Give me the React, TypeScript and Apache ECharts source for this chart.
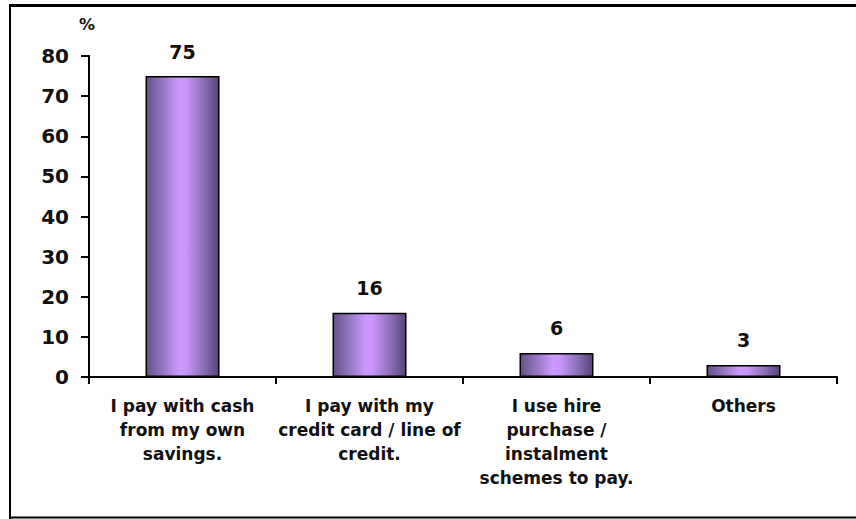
import React, { useEffect, useRef } from "react";
import * as echarts from "echarts";

const categories = [
  "I pay with cash\nfrom my own\nsavings.",
  "I pay with my\ncredit card / line of\ncredit.",
  "I use hire\npurchase /\ninstalment\nschemes to pay.",
  "Others",
];
const values = [75, 16, 6, 3];
const yMin = 0;
const yMax = 80;
const yStep = 10;
const unitLabel = "%";

const FONT = "DejaVu Sans";

export default function App() {
  const ref = useRef<HTMLDivElement>(null);
  useEffect(() => {
    if (!ref.current) return;
    const chart = echarts.init(ref.current, null, { renderer: "svg" });
    chart.setOption({
      animation: false,
      backgroundColor: "#ffffff",
      grid: { left: 89, right: 19, top: 56, bottom: 142, containLabel: false },
      xAxis: {
        type: "category",
        data: categories,
        axisLine: { lineStyle: { color: "#000", width: 2 } },
        axisTick: { show: true, length: 7, lineStyle: { color: "#000", width: 2 }, alignWithLabel: false },
        axisLabel: {
          color: "#111",
          fontFamily: FONT,
          fontWeight: "bold",
          fontSize: 17,
          lineHeight: 24,
          margin: 17,
          interval: 0,
          align: "center",
        },
      },
      yAxis: {
        type: "value",
        min: yMin,
        max: yMax,
        interval: yStep,
        splitLine: { show: false },
        axisLine: { show: true, lineStyle: { color: "#000", width: 2 } },
        axisTick: { show: true, length: 8, lineStyle: { color: "#000", width: 2 } },
        axisLabel: {
          color: "#111",
          fontFamily: FONT,
          fontWeight: "bold",
          fontSize: 20,
          margin: 20,
        },
      },
      series: [
        {
          type: "bar",
          data: values,
          barWidth: 74,
          itemStyle: {
            borderColor: "#000",
            borderWidth: 1.5,
            color: new echarts.graphic.LinearGradient(0, 0, 1, 0, [
              { offset: 0, color: "#66508a" },
              { offset: 0.2, color: "#8f72b8" },
              { offset: 0.45, color: "#cc99ff" },
              { offset: 0.55, color: "#c896fa" },
              { offset: 0.8, color: "#8a6cb2" },
              { offset: 1, color: "#58437a" },
            ]),
          },
          label: {
            show: true,
            position: "top",
            distance: 15,
            color: "#111",
            fontFamily: FONT,
            fontWeight: "bold",
            fontSize: 19,
          },
        },
      ],
      graphic: [
        { type: "line", shape: { x1: 9, y1: 5.5, x2: 856, y2: 5.5 }, style: { stroke: "#000", lineWidth: 3 } },
        { type: "line", shape: { x1: 10, y1: 4, x2: 10, y2: 519 }, style: { stroke: "#000", lineWidth: 2 } },
        { type: "line", shape: { x1: 9, y1: 517.5, x2: 856, y2: 517.5 }, style: { stroke: "#000", lineWidth: 2 } },
        {
          type: "text",
          x: 87,
          y: 24,
          style: {
            text: unitLabel,
            fill: "#111",
            font: `bold 16px "${FONT}"`,
            textAlign: "center",
            textVerticalAlign: "middle",
          },
        },
      ],
    });
    return () => chart.dispose();
  }, []);
  return (
    <div
      ref={ref}
      style={{ position: "fixed", left: 0, top: 0, width: 856, height: 519 }}
    />
  );
}
